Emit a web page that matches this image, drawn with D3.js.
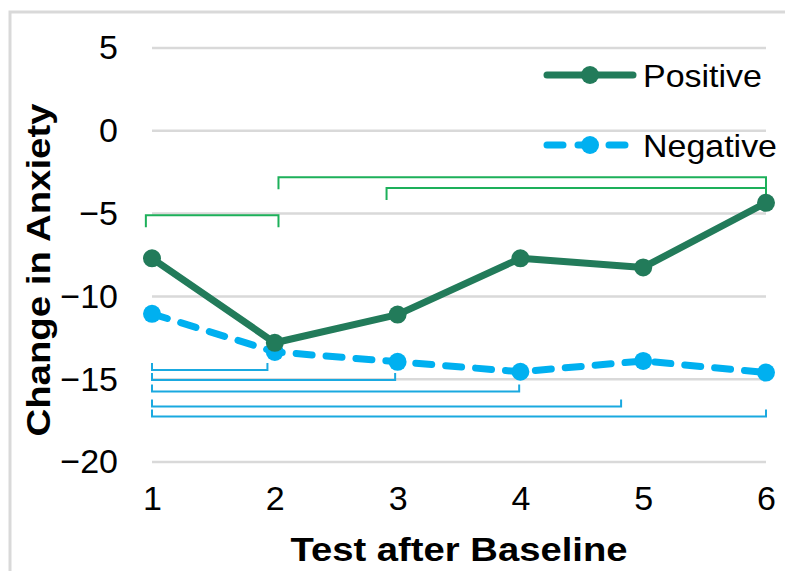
<!DOCTYPE html>
<html>
<head>
<meta charset="utf-8">
<script src="https://cdn.jsdelivr.net/npm/d3@7"></script>
<style>
  body { margin: 0; background: #fff; }
  text { font-family: "Liberation Sans", Arial, sans-serif; fill: #000; }
</style>
</head>
<body>
<div id="chart"></div>
<script>
var width = 785, height = 571;

// data
var tests = [1, 2, 3, 4, 5, 6];
var positive = [-7.7, -12.8, -11.1, -7.7, -8.25, -4.35];
var negative = [-11.05, -13.35, -13.95, -14.55, -13.9, -14.6];
var yTicks = [5, 0, -5, -10, -15, -20];

// significance brackets: [from test, to test, level]
var posBrackets = [[0.95, 2.03, -5.1], [2.03, 6, -2.8], [2.91, 6, -3.45]];
var negBrackets = [[1, 1.94, -14.45], [1, 2.98, -15.05], [1, 3.99, -15.75], [1, 4.82, -16.65], [1, 6, -17.25]];

var x = d3.scaleLinear().domain([1, 6]).range([152, 766]);
var y = d3.scaleLinear().domain([-20, 5]).range([462, 48]);

var svg = d3.select("#chart").append("svg")
    .attr("width", width)
    .attr("height", height);

// frame (only top and left edges are inside the picture)
svg.append("path")
    .attr("d", "M10," + height + "V12H" + width)
    .attr("fill", "none")
    .attr("stroke", "#d9d9d9")
    .attr("stroke-width", 3);

// gridlines
svg.append("g").selectAll("line")
    .data(yTicks)
    .enter().append("line")
    .attr("x1", x(1)).attr("x2", x(6))
    .attr("y1", function(d){ return y(d); })
    .attr("y2", function(d){ return y(d); })
    .attr("stroke", "#d9d9d9")
    .attr("stroke-width", 2.5);

// y axis labels
var yAxis = svg.append("g")
    .attr("transform", "translate(118,0)")
    .call(d3.axisLeft(y).tickValues(yTicks).tickSize(0).tickPadding(0));
yAxis.select(".domain").remove();
yAxis.selectAll("text")
    .attr("font-size", 34)
    .attr("font-family", "Liberation Sans, Arial, sans-serif")
    .attr("fill", "#000");

// x axis labels
var xAxis = svg.append("g")
    .attr("transform", "translate(0,486)")
    .call(d3.axisBottom(x).tickValues(tests).tickSize(0).tickPadding(0).tickFormat(d3.format("d")));
xAxis.select(".domain").remove();
xAxis.selectAll("text")
    .attr("font-size", 34)
    .attr("font-family", "Liberation Sans, Arial, sans-serif")
    .attr("fill", "#000");

// axis titles
svg.append("text")
    .attr("x", 459).attr("y", 561)
    .attr("text-anchor", "middle")
    .attr("font-size", 33)
    .attr("font-weight", "bold")
    .attr("textLength", 337)
    .attr("lengthAdjust", "spacingAndGlyphs")
    .text("Test after Baseline");

svg.append("text")
    .attr("transform", "translate(50,270) rotate(-90)")
    .attr("text-anchor", "middle")
    .attr("font-size", 33)
    .attr("font-weight", "bold")
    .attr("textLength", 333)
    .attr("lengthAdjust", "spacingAndGlyphs")
    .text("Change in Anxiety");

// brackets
var bracket = function(d, tick){
    return "M" + x(d[0]) + "," + (y(d[2]) + tick) +
           "V" + y(d[2]) + "H" + x(d[1]) + "V" + (y(d[2]) + tick);
};

svg.append("g").selectAll("path")
    .data(posBrackets)
    .enter().append("path")
    .attr("d", function(d){ return bracket(d, 12); })
    .attr("fill", "none")
    .attr("stroke", "#1DB05A")
    .attr("stroke-width", 2);

svg.append("g").selectAll("path")
    .data(negBrackets)
    .enter().append("path")
    .attr("d", function(d){ return bracket(d, -7); })
    .attr("fill", "none")
    .attr("stroke", "#1AA9E0")
    .attr("stroke-width", 2);

// series
var posColor = "#227B5A", negColor = "#00B0F0";
var line = d3.line()
    .x(function(d, i){ return x(tests[i]); })
    .y(function(d){ return y(d); });

svg.append("path")
    .datum(negative)
    .attr("d", line)
    .attr("fill", "none")
    .attr("stroke", negColor)
    .attr("stroke-width", 7)
    .attr("stroke-linecap", "round")
    .attr("stroke-dasharray", "16,14");

svg.append("g").selectAll("circle")
    .data(negative)
    .enter().append("circle")
    .attr("cx", function(d, i){ return x(tests[i]); })
    .attr("cy", function(d){ return y(d); })
    .attr("r", 9)
    .attr("fill", negColor);

svg.append("path")
    .datum(positive)
    .attr("d", line)
    .attr("fill", "none")
    .attr("stroke", posColor)
    .attr("stroke-width", 7)
    .attr("stroke-linejoin", "round");

svg.append("g").selectAll("circle")
    .data(positive)
    .enter().append("circle")
    .attr("cx", function(d, i){ return x(tests[i]); })
    .attr("cy", function(d){ return y(d); })
    .attr("r", 9)
    .attr("fill", posColor);

// legend
var legend = [
    {name: "Positive", color: posColor, dash: null, y: 75, w: 119},
    {name: "Negative", color: negColor, dash: "16,15", y: 145, w: 134}
];
var lg = svg.append("g").selectAll("g")
    .data(legend)
    .enter().append("g")
    .attr("transform", function(d){ return "translate(0," + d.y + ")"; });
lg.append("line")
    .attr("x1", 547).attr("x2", 633)
    .attr("stroke", function(d){ return d.color; })
    .attr("stroke-width", 7)
    .attr("stroke-linecap", "round")
    .attr("stroke-dasharray", function(d){ return d.dash; });
lg.append("circle")
    .attr("cx", 590).attr("r", 9)
    .attr("fill", function(d){ return d.color; });
lg.append("text")
    .attr("x", 643).attr("dy", "0.36em")
    .attr("font-size", 32)
    .attr("textLength", function(d){ return d.w; })
    .attr("lengthAdjust", "spacingAndGlyphs")
    .text(function(d){ return d.name; });
</script>
</body>
</html>
